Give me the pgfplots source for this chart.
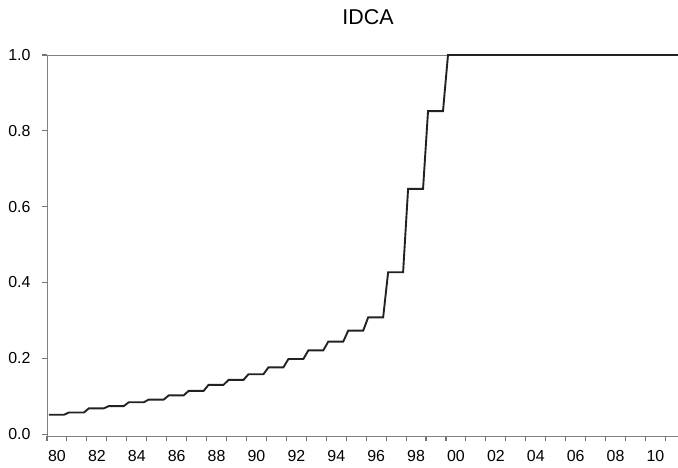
\documentclass[border=0pt]{standalone}
\usepackage{fontspec}
\setmainfont{Liberation Sans}
\usepackage{pgfplots}
\pgfplotsset{compat=1.18}
\usepackage{pgfplotstable}
\definecolor{axgray}{RGB}{128,128,128}
\definecolor{linedark}{RGB}{34,34,34}
\pgfplotstableread{
x y
1980.1 0.051
1980.85 0.051
1981.1 0.057
1981.85 0.057
1982.1 0.068
1982.85 0.068
1983.1 0.074
1983.85 0.074
1984.1 0.084
1984.85 0.084
1985.1 0.091
1985.85 0.091
1986.1 0.102
1986.85 0.102
1987.1 0.114
1987.85 0.114
1988.1 0.130
1988.85 0.130
1989.1 0.143
1989.85 0.143
1990.1 0.158
1990.85 0.158
1991.1 0.176
1991.85 0.176
1992.1 0.198
1992.85 0.198
1993.1 0.221
1993.85 0.221
1994.1 0.244
1994.85 0.244
1995.1 0.273
1995.85 0.273
1996.1 0.308
1996.85 0.308
1997.1 0.427
1997.85 0.427
1998.1 0.647
1998.85 0.647
1999.1 0.852
1999.85 0.852
2000.1 1.0
2000.85 1.0
2001.1 1.0
2002.1 1.0
2003.1 1.0
2004.1 1.0
2005.1 1.0
2006.1 1.0
2007.1 1.0
2008.1 1.0
2009.1 1.0
2010.1 1.0
2011.1 1.0
2011.73 1.0
}\idca
\begin{document}
\begin{tikzpicture}
\begin{axis}[
  scale only axis,
  width=633bp, height=381bp,
  xmin=1980, xmax=2011.73,
  ymin=-0.005, ymax=1.0,
  clip=false,
  axis line style={draw=axgray, line width=0.9bp},
  tick style={draw=black!55, line width=1.1bp},
  tick align=outside,
  xtick pos=left,
  ytick pos=left,
  major tick length=5bp,
  xtick={1980,1981,...,2011},
  xticklabels={80,,82,,84,,86,,88,,90,,92,,94,,96,,98,,00,,02,,04,,06,,08,,10,},
  ytick={0,0.2,0.4,0.6,0.8,1.0},
  /pgf/number format/assume math mode=true,
  y tick label style={/pgf/number format/fixed, /pgf/number format/fixed zerofill, /pgf/number format/precision=1},
  y tick label style={font=\fontsize{16}{18}\selectfont, xshift=-8bp},
  x tick label style={font=\fontsize{16}{18}\selectfont, xshift=9.97bp, yshift=-6bp},
]
\addplot[color=linedark, line width=1.9bp, line join=miter] table[x=x, y=y] {\idca};
\end{axis}
\node[anchor=base, font=\fontsize{21.5}{24}\selectfont] at ([xshift=321bp, yshift=30.5bp]current axis.north west) {IDCA};
\pgfresetboundingbox
\path[use as bounding box] ([xshift=-47bp, yshift=-32bp]current axis.south west) rectangle ([xshift=-2bp, yshift=55bp]current axis.north east);
\end{tikzpicture}
\end{document}
